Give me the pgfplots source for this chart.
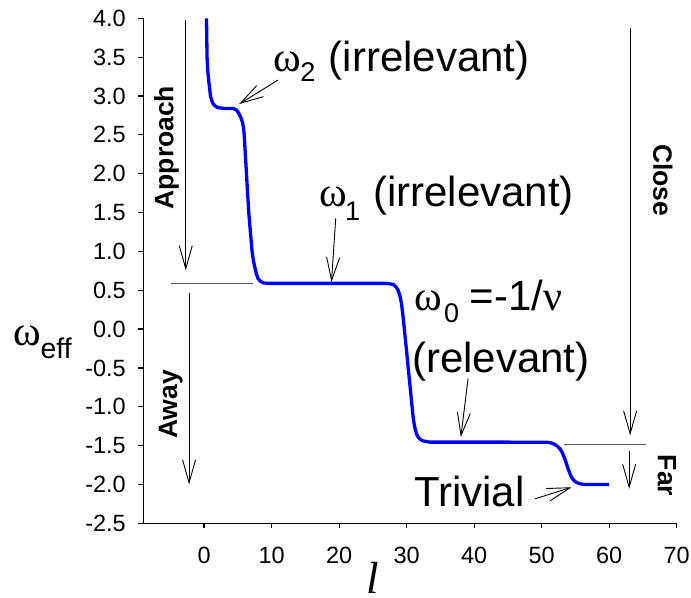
\documentclass[border=0pt]{standalone}
\usepackage{pgfplots}
\pgfplotsset{compat=1.18}
\usepackage{fontspec}
\setmainfont{Liberation Sans}
\newfontfamily\grk{Liberation Serif}
\usetikzlibrary{arrows.meta}

\definecolor{curve}{RGB}{0,0,255}
\definecolor{ln}{RGB}{90,90,90}
\newcommand\bigtxt{\fontsize{42bp}{50bp}\selectfont}
\newcommand\subtxt{\fontsize{27bp}{32bp}\selectfont}
\newcommand\lbl{\fontsize{26.5bp}{32bp}\selectfont\bfseries}

\tikzset{
  ar/.style={line width=0.9bp, -{Straight Barb[length=23bp,width=13bp,line width=0.9bp]}},
  tx/.style={anchor=base west, inner sep=0pt},
}

\begin{document}
\begin{tikzpicture}
\begin{axis}[
  at={(0,0)}, anchor=south west,
  scale only axis, width=533.4bp, height=505bp,
  xmin=-9, xmax=70, ymin=-2.5, ymax=4,
  axis x line=bottom, axis y line=left,
  axis line style={-, line width=1.2bp},
  tick align=outside, major tick length=5bp,
  tick style={line width=1.2bp, black},
  xtick={0,10,...,70},
  xticklabels={0,10,20,30,40,50,60,70},
  ytick={-2.5,-2,...,4},
  yticklabels={-2.5,-2.0,-1.5,-1.0,-0.5,0.0,0.5,1.0,1.5,2.0,2.5,3.0,3.5,4.0},
  ticklabel style={font=\fontsize{23.5bp}{28bp}\selectfont, inner sep=0pt},
  xticklabel style={anchor=north, yshift=-18.4bp},
  yticklabel style={anchor=east, xshift=-12.3bp},
  clip=false,
]

% flow of the effective exponent
\addplot[curve, line width=3.3bp, line join=round] table {
0.36 4.00
0.40 3.75
0.44 3.50
0.55 3.32
0.74 3.16
0.95 3.00
1.15 2.94
1.33 2.90
1.65 2.87
2.07 2.85
3.00 2.84
4.30 2.84
4.80 2.82
5.05 2.79
5.29 2.75
5.50 2.71
5.69 2.66
5.82 2.60
5.93 2.52
6.10 2.27
6.28 2.00
6.45 1.75
6.62 1.50
6.87 1.24
7.11 1.00
7.31 0.88
7.51 0.80
7.75 0.71
8.00 0.65
8.35 0.615
8.74 0.595
9.50 0.588
15.0 0.588
20.0 0.588
27.0 0.588
28.00 0.575
28.40 0.545
28.74 0.50
29.00 0.43
29.24 0.33
29.48 0.155
29.73 -0.06
29.98 -0.27
30.22 -0.49
30.47 -0.70
30.72 -0.92
30.96 -1.13
31.15 -1.24
31.32 -1.305
31.50 -1.355
31.70 -1.39
32.05 -1.42
32.44 -1.44
33.40 -1.455
40.0 -1.455
50.70 -1.456
51.40 -1.465
51.96 -1.486
52.35 -1.51
52.70 -1.54
53.05 -1.59
53.43 -1.67
53.68 -1.735
53.93 -1.80
54.18 -1.86
54.43 -1.91
54.80 -1.95
55.17 -1.975
55.65 -1.99
56.15 -2.00
60.00 -2.00
};

% reference levels
\draw[ln, line width=1.3bp] (-4.83,0.585) -- (7.26,0.585);
\draw[ln, line width=1.3bp] (53.3,-1.486) -- (65.5,-1.486);

% arrows
\draw[ar] (-2.71,3.978) -- (-2.71,0.756);
\draw[ar] (-2.22,0.469) -- (-2.22,-2.0);
\draw[ar] (63.1,3.87) -- (63.1,-1.37);
\draw[ar] (62.96,-1.572) -- (62.96,-2.057);
\draw[ar] (19.5,1.423) -- (18.87,0.606);
\draw[ar] (10.96,3.205) -- (5.19,2.896);
\draw[ar] (39.1,-0.639) -- (38.03,-1.39);
\draw[ar] (49.0,-2.186) -- (54.43,-2.036);

% side labels
\node[rotate=90, font=\lbl] at (-5.57,2.335) {Approach};
\node[rotate=90, font=\lbl] at (-4.93,-0.970) {Away};
\node[rotate=-90, font=\lbl] at (67.95,1.916) {Close};
\node[rotate=-90, font=\lbl] at (68.55,-1.885) {Far};

% omega_2
\node[tx, font=\bigtxt\grk] at (10.18,3.312) {ω};
\node[tx, font=\subtxt] at (14.25,3.183) {2};
\node[tx, font=\bigtxt] at (18.44,3.312) {(irrelevant)};
% omega_1
\node[tx, font=\bigtxt\grk] at (17.04,1.572) {ω};
\node[tx, font=\subtxt] at (20.85,1.401) {1};
\node[tx, font=\bigtxt] at (25.0,1.572) {(irrelevant)};
% omega_0
\node[tx, font=\bigtxt\grk] at (31.21,0.241) {ω};
\node[tx, font=\subtxt] at (35.51,0.090) {0};
\node[tx, font=\bigtxt] at (39.30,0.241) {=-1/{\grk ν}};
\node[tx, font=\bigtxt] at (30.79,-0.558) {(relevant)};
% trivial
\node[tx, font=\bigtxt] at (31.07,-2.285) {Trivial};

% axis labels
\node[tx, font=\bigtxt\grk] at (-28.30,-0.210) {ω};
\node[tx, font=\fontsize{28.5bp}{34bp}\selectfont] at (-24.25,-0.381) {eff};
\node[anchor=base, inner sep=0pt, font=\fontsize{45bp}{52bp}\selectfont\grk\itshape] at (25,-3.40) {l};
\end{axis}
\pgfresetboundingbox
\path (-143.3bp,-74.7bp) rectangle (547.7bp,523.3bp);
\end{tikzpicture}
\end{document}
